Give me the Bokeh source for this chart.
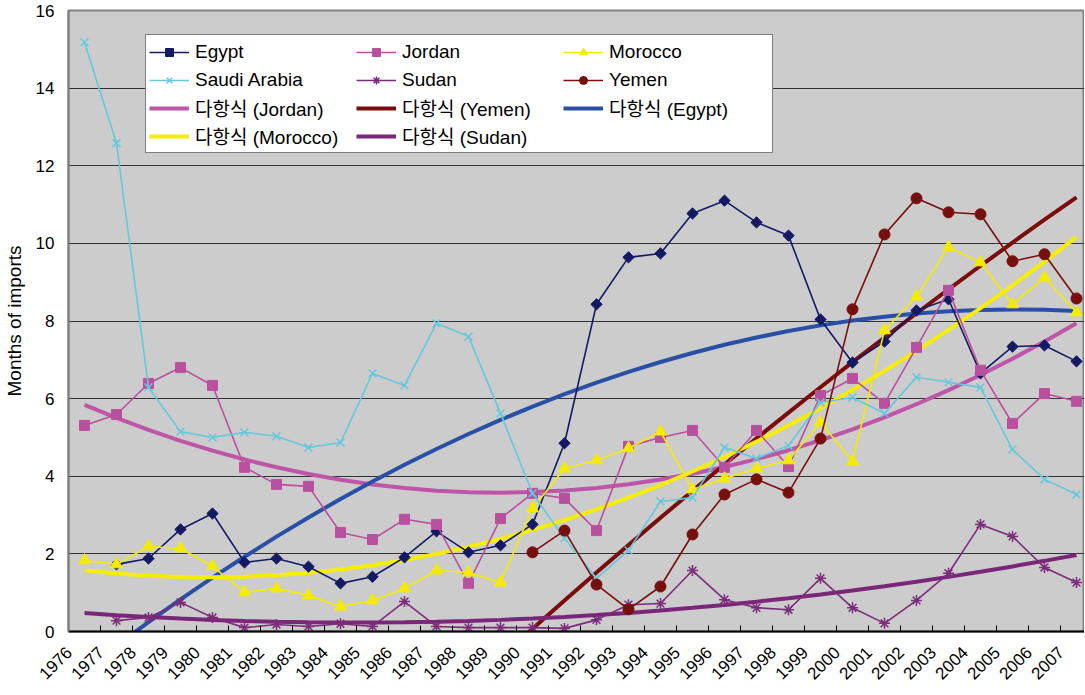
import numpy as np
from math import pi
from bokeh.plotting import figure
from bokeh.models import FixedTicker, Legend, LegendItem, Range1d
from bokeh.embed import file_html
from bokeh.resources import INLINE

year_labels = ["1976", "1977", "1978", "1979", "1980", "1981", "1982", "1983",
               "1984", "1985", "1986", "1987", "1988", "1989", "1990", "1991",
               "1992", "1993", "1994", "1995", "1996", "1997", "1998", "1999",
               "2000", "2001", "2002", "2003", "2004", "2005", "2006", "2007"]

egypt = [None, 1.73, 1.88, 2.63, 3.04, 1.78, 1.88, 1.67, 1.24, 1.41,
         1.91, 2.58, 2.04, 2.22, 2.76, 4.85, 8.43, 9.64, 9.74, 10.77,
         11.10, 10.54, 10.20, 8.04, 6.93, 7.47, 8.27, 8.56, 6.65, 7.34,
         7.37, 6.96]
jordan = [5.31, 5.59, 6.39, 6.80, 6.34, 4.23, 3.79, 3.74, 2.55, 2.37,
          2.89, 2.76, 1.24, 2.91, 3.56, 3.43, 2.60, 4.77, 5.00, 5.18,
          4.23, 5.18, 4.25, 6.08, 6.52, 5.88, 7.32, 8.79, 6.73, 5.36,
          6.13, 5.93]
morocco = [1.83, 1.73, 2.19, 2.14, 1.68, 1.01, 1.11, 0.93, 0.64, 0.80,
           1.11, 1.57, 1.52, 1.26, 3.17, 4.20, 4.41, 4.72, 5.15, 3.66,
           3.94, 4.20, 4.41, 5.39, 4.38, 7.76, 8.63, 9.90, 9.51, 8.43,
           9.12, 8.22]
saudi = [15.18, 12.58, 6.29, 5.15, 5.00, 5.13, 5.03, 4.74, 4.87, 6.65,
         6.34, 7.94, 7.60, 5.62, 3.56, 2.40, 1.37, 2.09, 3.35, 3.45,
         4.74, 4.46, 4.79, 5.90, 6.03, 5.62, 6.55, 6.42, 6.29, 4.69,
         3.92, 3.53]
sudan = [None, 0.28, 0.36, 0.75, 0.36, 0.10, 0.18, 0.13, 0.20, 0.13,
         0.77, 0.13, 0.10, 0.10, 0.10, 0.08, 0.30, 0.69, 0.72, 1.57,
         0.82, 0.61, 0.56, 1.37, 0.61, 0.21, 0.80, 1.50, 2.76, 2.45,
         1.65, 1.26]
yemen = [None, None, None, None, None, None, None, None, None, None,
         None, None, None, None, 2.04, 2.60, 1.21, 0.57, 1.16, 2.50,
         3.53, 3.92, 3.58, 4.97, 8.30, 10.23, 11.16, 10.80, 10.75, 9.54,
         9.72, 8.58]

y_ticks = [0, 2, 4, 6, 8, 10, 12, 14, 16]

FONT = "Liberation Sans, Noto Sans CJK KR"

idx = np.arange(len(year_labels), dtype=float)
label_pos = idx - 0.49


def arr(v):
    return np.array([np.nan if a is None else a for a in v], dtype=float)


def trend(v, deg=2):
    y = arr(v)
    m = ~np.isnan(y)
    coef = np.polyfit(idx[m], y[m], deg)
    return np.polyval(coef, idx)


p = figure(frame_width=1016, frame_height=621, output_backend="svg",
           toolbar_location=None,
           x_range=Range1d(-0.5, 31.25), y_range=Range1d(0, 16),
           min_border_left=61, min_border_right=0, min_border_top=10,
           min_border_bottom=56)

p.background_fill_color = "#CCCCCC"
p.border_fill_color = "white"
p.outline_line_color = "#808080"
p.outline_line_width = 2

p.xgrid.visible = False
p.ygrid.grid_line_color = "#333333"
p.ygrid.grid_line_width = 1
p.ygrid.ticker = FixedTicker(ticks=y_ticks)

# y axis
p.yaxis.ticker = FixedTicker(ticks=y_ticks)
p.yaxis.axis_line_color = "#808080"
p.yaxis.axis_line_width = 2
p.yaxis.major_tick_in = 0
p.yaxis.major_tick_out = 0
p.yaxis.minor_tick_line_color = None
p.yaxis.major_label_text_font = FONT
p.yaxis.major_label_text_font_size = "17px"
p.yaxis.major_label_text_color = "black"
p.yaxis.major_label_standoff = 14
p.yaxis.axis_label = "Months of imports"
p.yaxis.axis_label_text_font = FONT
p.yaxis.axis_label_text_font_size = "19px"
p.yaxis.axis_label_text_font_style = "normal"
p.yaxis.axis_label_text_color = "black"
p.yaxis.axis_label_standoff = 8

# x axis: year labels (hidden major ticks) + category boundary ticks
p.xaxis.ticker = FixedTicker(ticks=list(label_pos), minor_ticks=list(idx + 0.5))
p.xaxis.major_label_overrides = {float(t): lab
                                 for t, lab in zip(label_pos, year_labels)}
p.xaxis.major_label_orientation = pi / 4
p.xaxis.axis_line_color = "black"
p.xaxis.axis_line_width = 2
p.xaxis.major_tick_in = 0
p.xaxis.major_tick_out = 0
p.xaxis.major_tick_line_color = None
p.xaxis.minor_tick_in = 6
p.xaxis.minor_tick_out = 0
p.xaxis.minor_tick_line_color = "black"
p.xaxis.minor_tick_line_width = 1
p.xaxis.major_label_text_font = FONT
p.xaxis.major_label_text_font_size = "17px"
p.xaxis.major_label_text_color = "black"
p.xaxis.major_label_standoff = 18

# trendlines
tr_j = p.line(idx, trend(jordan), line_color="#BE55A8", line_width=4)
tr_y = p.line(idx, trend(yemen), line_color="#7A0C0C", line_width=4)
tr_e = p.line(idx, trend(egypt), line_color="#2A50A6", line_width=4)
tr_m = p.line(idx, trend(morocco), line_color="#F5EE00", line_width=4)
tr_s = p.line(idx, trend(sudan), line_color="#7A2679", line_width=4)


def draw(v, color, marker, size, lw=1.6, mlw=1.0, fill=True, angle=0.0):
    y = arr(v)
    ln = p.line(idx, y, line_color=color, line_width=lw)
    pts = p.scatter(idx, y, marker=marker, size=size, angle=angle,
                    line_color=color, fill_color=color if fill else None,
                    line_width=mlw)
    return [ln, pts]


r_eg = draw(egypt, "#131A63", "square", 8, angle=pi / 4)
r_jo = draw(jordan, "#B9509F", "square", 10)
r_mo = draw(morocco, "#F4EC00", "triangle", 12)
r_sa = draw(saudi, "#66C8DC", "x", 11, mlw=1.5, fill=False)
r_su = draw(sudan, "#7B2C7A", "asterisk", 11, mlw=1.5, fill=False)
r_ye = draw(yemen, "#780F0F", "circle", 11)

items = [
    LegendItem(label="Egypt", renderers=r_eg),
    LegendItem(label="Jordan", renderers=r_jo),
    LegendItem(label="Morocco", renderers=r_mo),
    LegendItem(label="Saudi Arabia", renderers=r_sa),
    LegendItem(label="Sudan", renderers=r_su),
    LegendItem(label="Yemen", renderers=r_ye),
    LegendItem(label="다항식 (Jordan)", renderers=[tr_j]),
    LegendItem(label="다항식 (Yemen)", renderers=[tr_y]),
    LegendItem(label="다항식 (Egypt)", renderers=[tr_e]),
    LegendItem(label="다항식 (Morocco)", renderers=[tr_m]),
    LegendItem(label="다항식 (Sudan)", renderers=[tr_s]),
]

legend = Legend(items=items, location=(77, 478), orientation="horizontal",
                ncols=3)
legend.background_fill_color = "white"
legend.background_fill_alpha = 1.0
legend.border_line_color = "black"
legend.border_line_width = 1
legend.label_text_font = FONT
legend.label_text_font_size = "19px"
legend.label_text_color = "black"
legend.glyph_width = 40
legend.glyph_height = 20
legend.label_height = 27
legend.label_width = 160
legend.label_standoff = 6
legend.spacing = 1
legend.padding = 3
legend.margin = 0
p.add_layout(legend)

open("out.html", "w").write(file_html(p, INLINE))
